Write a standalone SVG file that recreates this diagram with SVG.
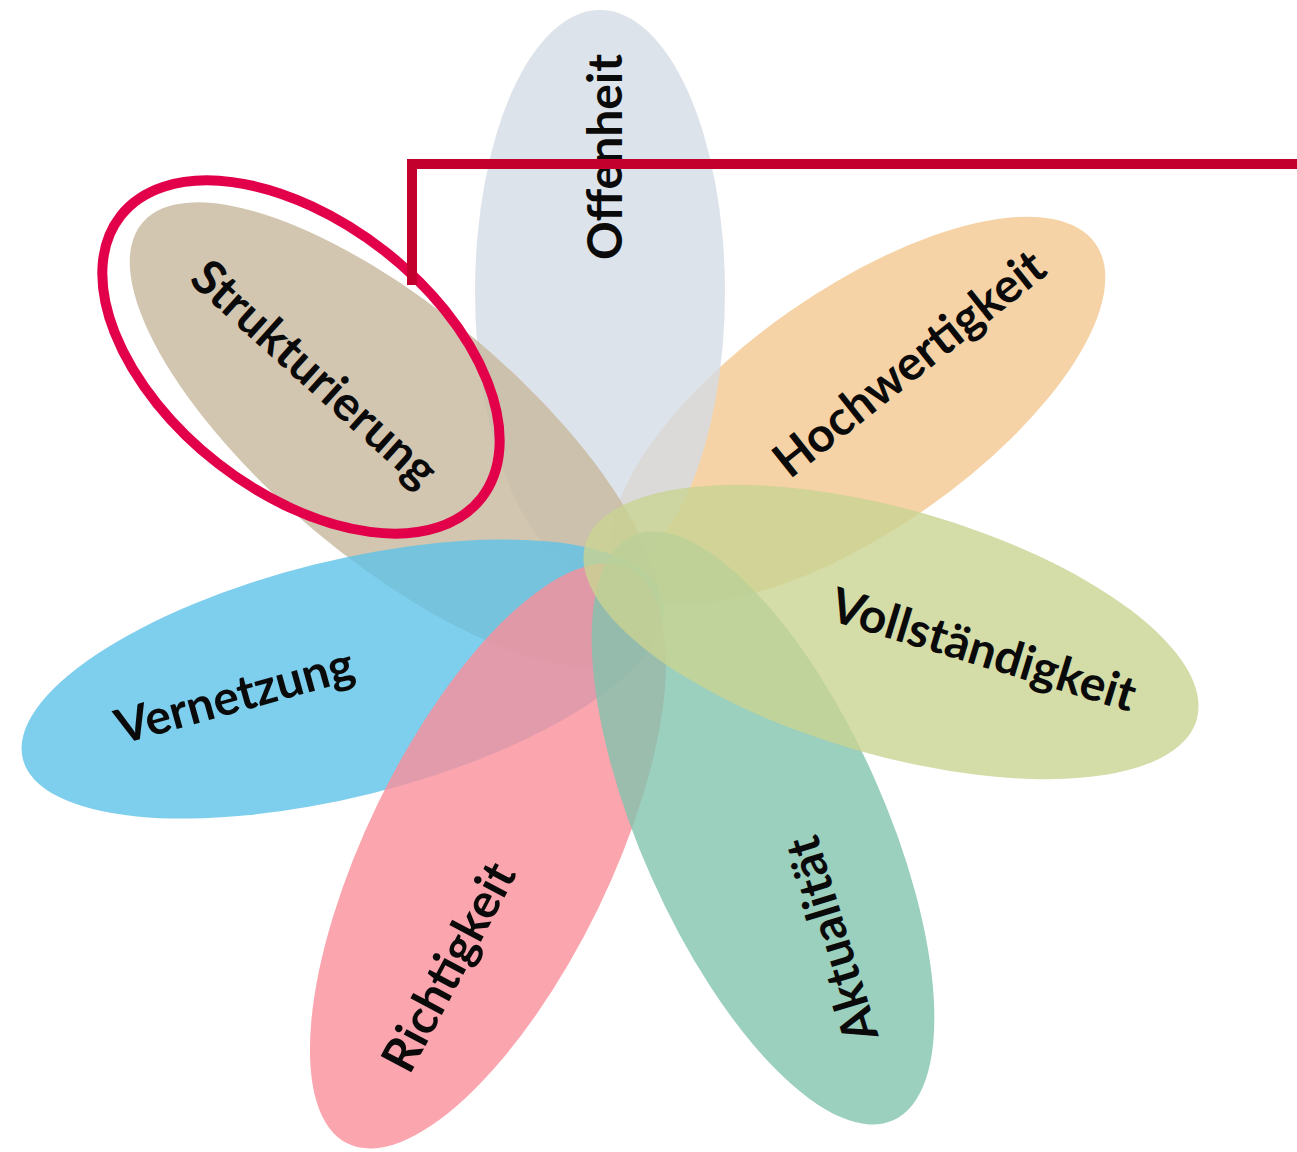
<svg xmlns="http://www.w3.org/2000/svg" width="1297" height="1152" viewBox="0 0 1297 1152">
  <style>
    .petal { fill-opacity: 0.8; }
    .lbl { font-family: Lato, "Liberation Sans", sans-serif; font-weight: 700; font-size: 48px; fill: #0a0a0a; text-anchor: middle; dominant-baseline: central; }
  </style>
  <rect width="1297" height="1152" fill="#ffffff"/>
  <g id="hochwertigkeit">
    <ellipse class="petal" cx="858" cy="410" rx="290" ry="120" transform="rotate(-35 858 410)" fill="#f4c890"/>
  </g>
  <g id="offenheit">
    <ellipse class="petal" cx="600" cy="292" rx="125" ry="282" fill="#d5dce5"/>
  </g>
  <g id="strukturierung">
    <ellipse class="petal" cx="395" cy="435" rx="330" ry="125" transform="rotate(40 395 435)" fill="#c8b89c"/>
  </g>
  <g id="vernetzung">
    <ellipse class="petal" cx="343" cy="679" rx="330" ry="118" transform="rotate(-14 343 679)" fill="#5ec2e8"/>
  </g>
  <g id="richtigkeit">
    <ellipse class="petal" cx="488" cy="856" rx="320" ry="122" transform="rotate(-64 488 856)" fill="#fa8f9a"/>
  </g>
  <g id="aktualitaet">
    <ellipse class="petal" cx="763" cy="828" rx="320" ry="122" transform="rotate(66 763 828)" fill="#82c3ae"/>
  </g>
  <g id="vollstaendigkeit">
    <ellipse class="petal" cx="891" cy="632" rx="318" ry="123" transform="rotate(16 891 632)" fill="#c9d392"/>
  </g>
  <g id="labels">
    <text class="lbl" transform="translate(603 157) rotate(-90)">Offenheit</text>
    <text class="lbl" transform="translate(316 372) rotate(42)">Strukturierung</text>
    <text class="lbl" transform="translate(908 362) rotate(-38.5)">Hochwertigkeit</text>
    <text class="lbl" transform="translate(984 648) rotate(17)">Vollständigkeit</text>
    <text class="lbl" transform="translate(234 694) rotate(-15.5)">Vernetzung</text>
    <text class="lbl" transform="translate(447 966) rotate(-62)">Richtigkeit</text>
    <text class="lbl" transform="translate(830 940) rotate(-107)">Aktualität</text>
  </g>
  <g id="highlight">
    <ellipse cx="301" cy="357" rx="229" ry="135" transform="rotate(38 301 357)" fill="none" stroke="#e2004a" stroke-width="10"/>
  </g>
  <g id="connectors">
    <polyline points="412,285 412,164 1297,164" fill="none" stroke="#c3002d" stroke-width="10"/>
  </g>
</svg>
